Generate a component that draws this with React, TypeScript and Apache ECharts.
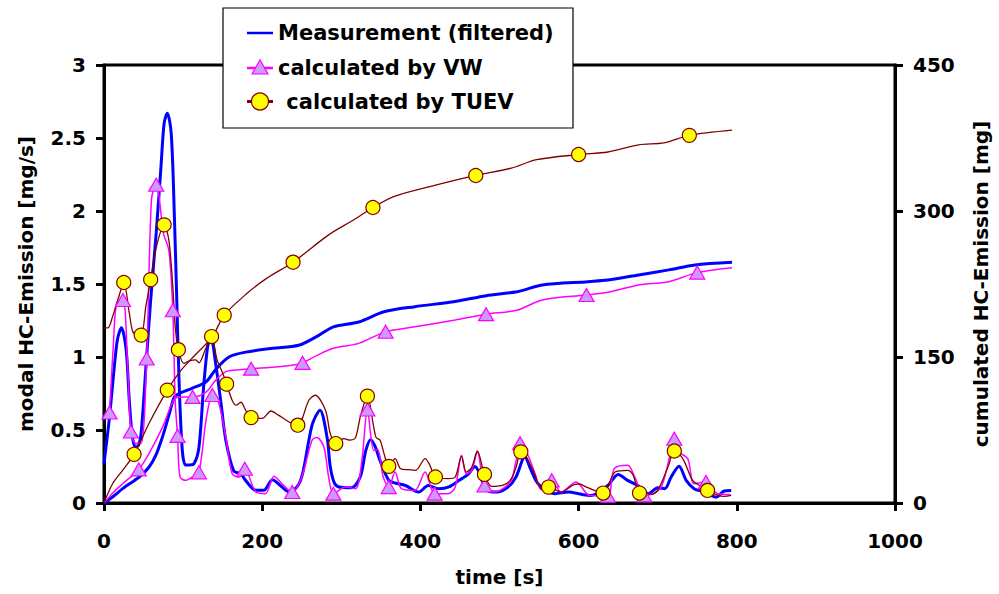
import React, { useEffect, useRef } from "react";
import * as echarts from "echarts";

// ---- data (time [s], value) ----
const measModal: [number, number][] = [
  [0, 0.27], [7, 0.59], [13, 0.93], [17, 1.12], [22, 1.2], [28, 1.05], [32, 0.7], [36, 0.45], [40, 0.38], [44, 0.4],
  [47, 0.48], [53, 0.93], [59, 1.39], [66, 1.85], [72, 2.3], [76, 2.6], [80, 2.67], [85, 2.53], [89, 1.96], [92, 1.39],
  [95, 0.82], [99, 0.36], [103, 0.26], [108, 0.26], [114, 0.27], [120, 0.38], [126, 0.8], [131, 1.07], [135, 1.14],
  [141, 0.96], [148, 0.68], [154, 0.43], [164, 0.22], [173, 0.2], [179, 0.155], [192, 0.087], [202, 0.087], [213, 0.16],
  [223, 0.12], [234, 0.075], [244, 0.11], [251, 0.2], [259, 0.43], [264, 0.55], [273, 0.636], [282, 0.45], [286, 0.25],
  [291, 0.14], [297, 0.11], [313, 0.105], [324, 0.18], [331, 0.36], [337, 0.434], [343, 0.384], [349, 0.29], [360, 0.155],
  [368, 0.137], [381, 0.12], [398, 0.075], [410, 0.12], [423, 0.098], [436, 0.11], [449, 0.155], [461, 0.2], [469, 0.25],
  [475, 0.2], [484, 0.086], [498, 0.075], [511, 0.11], [521, 0.18], [532, 0.315], [540, 0.224], [549, 0.13], [570, 0.064],
  [587, 0.075], [603, 0.06], [616, 0.052], [637, 0.12], [650, 0.196], [662, 0.155], [675, 0.12], [688, 0.064], [700, 0.105],
  [709, 0.098], [717, 0.178], [727, 0.251], [736, 0.155], [746, 0.098], [759, 0.075], [774, 0.04], [784, 0.082], [793, 0.086],
];

const vwModal: [number, number][] = [
  [7, 0.62], [12, 1.1], [16, 1.37], [24, 1.39], [30, 0.93], [34, 0.49], [40, 0.41], [47, 0.41], [54, 0.99], [60, 2.08],
  [66, 2.18], [70, 2.08], [75, 1.85], [82, 1.73], [87, 1.32], [90, 0.7], [93, 0.46], [96, 0.18], [103, 0.155], [112, 0.178],
  [120, 0.21], [129, 0.567], [137, 0.74], [145, 0.684], [154, 0.452], [162, 0.2], [171, 0.178], [178, 0.235], [192, 0.075],
  [204, 0.064], [215, 0.183], [225, 0.132], [238, 0.075], [250, 0.178], [263, 0.43], [269, 0.448], [278, 0.384], [284, 0.178],
  [290, 0.064], [305, 0.109], [318, 0.098], [326, 0.29], [333, 0.64], [341, 0.36], [346, 0.366], [353, 0.178], [360, 0.109],
  [368, 0.212], [376, 0.098], [393, 0.086], [406, 0.212], [412, 0.132], [418, 0.064], [435, 0.064], [444, 0.11], [452, 0.327],
  [458, 0.2], [465, 0.224], [472, 0.35], [481, 0.12], [494, 0.075], [507, 0.109], [515, 0.155], [521, 0.29], [526, 0.41],
  [536, 0.327], [545, 0.2], [553, 0.09], [566, 0.155], [578, 0.075], [597, 0.143], [614, 0.052], [637, 0.05], [645, 0.235],
  [662, 0.258], [671, 0.178], [683, 0.052], [692, 0.059], [704, 0.105], [712, 0.246], [721, 0.44], [727, 0.35], [738, 0.304],
  [746, 0.132], [761, 0.143], [776, 0.064], [792, 0.059],
];
const vwModalMarkers = [7, 24, 34, 54, 66, 87, 93, 120, 137, 178, 238, 290, 333, 360, 418, 481, 526, 566, 637, 683, 721, 761];

const tuevModal: [number, number][] = [
  [0, 1.2], [5, 1.2], [11, 1.28], [18, 1.4], [25, 1.51], [32, 1.3], [36, 1.18], [41, 1.15], [47, 1.15], [53, 1.35],
  [59, 1.53], [66, 1.75], [76, 1.905], [82, 1.8], [87, 1.48], [90, 1.21], [94, 1.05], [101, 0.956], [108, 0.974],
  [116, 0.98], [120, 0.96], [128, 1.05], [136, 1.14], [143, 0.98], [150, 0.89], [155, 0.814], [162, 0.704], [167, 0.67],
  [173, 0.69], [179, 0.636], [186, 0.585], [200, 0.579], [211, 0.63], [221, 0.6], [234, 0.555], [245, 0.533], [259, 0.704],
  [267, 0.738], [280, 0.636], [286, 0.476], [293, 0.407], [303, 0.441], [311, 0.43], [318, 0.448], [324, 0.59], [333, 0.732],
  [341, 0.52], [344, 0.448], [349, 0.43], [354, 0.338], [360, 0.251], [368, 0.304], [375, 0.235], [385, 0.228], [394, 0.224],
  [406, 0.304], [412, 0.258], [419, 0.178], [435, 0.167], [444, 0.178], [452, 0.32], [458, 0.212], [465, 0.246], [472, 0.356],
  [481, 0.196], [490, 0.114], [507, 0.128], [515, 0.167], [521, 0.246], [527, 0.35], [534, 0.315], [545, 0.19], [553, 0.098],
  [562, 0.109], [578, 0.075], [595, 0.128], [601, 0.13], [610, 0.109], [631, 0.068], [646, 0.212], [662, 0.224], [669, 0.19],
  [677, 0.068], [692, 0.059], [700, 0.086], [713, 0.246], [721, 0.356], [727, 0.338], [734, 0.28], [744, 0.155], [753, 0.12],
  [763, 0.086], [776, 0.052], [784, 0.045], [793, 0.052],
];
const tuevModalMarkers = [25, 47, 59, 76, 94, 136, 155, 186, 245, 293, 333, 360, 419, 481, 527, 562, 631, 677, 721, 763];

const measCum: [number, number][] = [
  [0, 0], [12, 7], [24, 15], [45, 27], [57, 37], [66, 50], [74, 68], [82, 90], [89, 109], [95, 112.5], [112, 118],
  [129, 124.5], [141, 137], [158, 150], [179, 155], [213, 159], [246, 162], [271, 172], [290, 181], [322, 186],
  [354, 196.5], [393, 201.7], [444, 207], [483, 213], [522, 217], [554, 224], [612, 227.4], [637, 229], [676, 234.3],
  [714, 239.5], [747, 244.6], [794, 247.4],
];

const vwCum: [number, number][] = [
  [0, 0], [12, 11], [24, 20], [44, 34.5], [57, 51], [74, 78], [89, 107], [99, 109], [112, 109], [129, 114], [141, 126],
  [154, 135], [170, 137], [186, 138], [221, 140], [242, 142], [251, 144], [270, 152], [290, 159], [322, 164], [356, 176],
  [393, 181], [444, 188], [483, 194], [522, 198], [554, 208.6], [610, 213.7], [637, 216.5], [676, 224], [714, 227.4],
  [750, 236.7], [794, 241.8],
];
const vwCumMarkers = [44, 112, 186, 251, 356, 483, 610, 750];

const tuevCum: [number, number][] = [
  [0, 0], [11, 20], [24, 34], [38, 50], [57, 82], [80, 116], [95, 134], [108, 146], [137, 171], [152, 193], [181, 215.5],
  [206, 231], [239, 247.4], [284, 275.5], [316, 291], [340, 303.6], [367, 315], [412, 325], [470, 336.5], [515, 344],
  [547, 352.7], [600, 358], [637, 360.6], [676, 368], [708, 370], [740, 377.7], [794, 383],
];
const tuevCumMarkers = [38, 80, 152, 239, 340, 470, 600, 740];

const seriesNames = ["Measurement (filtered)", "calculated by VW", " calculated by TUEV"];
const axisTitles = { x: "time [s]", yLeft: "modal HC-Emission [mg/s]", yRight: "cumulated HC-Emission [mg]" };

const BLUE = "#0000FF";
const MAGENTA = "#FF00FF";
const LAVENDER = "#CC99FF";
const BROWN = "#800000";
const YELLOW = "#FFFF00";
const FONT = "DejaVu Sans";

function build(points: [number, number][], markers: number[]) {
  return points.map(([t, v]) => ({ value: [t, v], symbol: markers.includes(t) ? undefined : "none" }));
}

export default function App() {
  const ref = useRef<HTMLDivElement>(null);
  useEffect(() => {
    if (!ref.current) return;
    const chart = echarts.init(ref.current, null, { renderer: "svg" });
    const labelStyle = { color: "#000", fontFamily: FONT, fontWeight: "bold" as const, fontSize: 20 };
    const axisLine = { show: true, lineStyle: { color: "#000", width: 3 } };
    const axisTick = { show: true, length: 8, inside: false, lineStyle: { color: "#000", width: 3 } };
    const plain = (v: number) => String(v);

    const lineSeries = (
      name: string, data: any[], yAxisIndex: number, color: string, width: number,
      symbol: string, symbolSize: any, fill: string, border: string
    ) => ({
      name, type: "line", yAxisIndex, data, smooth: 0.3,
      symbol, symbolSize, showSymbol: true, showAllSymbol: true,
      lineStyle: { color, width },
      itemStyle: { color: fill, borderColor: border, borderWidth: 1.2, opacity: 1 },
      emphasis: { disabled: true },
    });

    const legendRows = [33, 68, 101.5];
    const lx = 223, ly = 8;
    const graphic: any[] = [
      {
        type: "group", x: lx, y: ly, z: 100, children: [
          { type: "rect", shape: { x: 0, y: 0, width: 350, height: 120 }, style: { fill: "#fff", stroke: "#000", lineWidth: 1.2 } },
          { type: "line", shape: { x1: 24, y1: legendRows[0] - ly, x2: 50, y2: legendRows[0] - ly }, style: { stroke: BLUE, lineWidth: 2.5 } },
          { type: "line", shape: { x1: 24, y1: legendRows[1] - ly, x2: 50, y2: legendRows[1] - ly }, style: { stroke: MAGENTA, lineWidth: 2.5 } },
          {
            type: "polygon",
            shape: { points: [[29, legendRows[1] - ly + 6], [37, legendRows[1] - ly - 8], [45, legendRows[1] - ly + 6]] },
            style: { fill: LAVENDER, stroke: MAGENTA, lineWidth: 1.2 },
          },
          { type: "line", shape: { x1: 24, y1: legendRows[2] - ly, x2: 50, y2: legendRows[2] - ly }, style: { stroke: BROWN, lineWidth: 3 } },
          { type: "circle", shape: { cx: 37, cy: legendRows[2] - ly, r: 8.5 }, style: { fill: YELLOW, stroke: BROWN, lineWidth: 1.2 } },
          ...seriesNames.map((n, i) => ({
            type: "text", x: i === 2 ? 56 : 55, y: legendRows[i] - ly,
            style: { text: n, fill: "#000", font: `bold 21px "${FONT}"`, align: "left", verticalAlign: "middle" },
          })),
        ],
      },
    ];

    chart.setOption({
      animation: false,
      backgroundColor: "#fff",
      grid: { left: 104, right: 102, top: 65, bottom: 91, show: true, borderColor: "#000", borderWidth: 3, backgroundColor: "transparent" },
      xAxis: {
        type: "value", min: 0, max: 1000, interval: 200,
        name: axisTitles.x, nameLocation: "middle", nameGap: 64,
        nameTextStyle: labelStyle,
        axisLine, axisTick, splitLine: { show: false },
        axisLabel: { ...labelStyle, margin: 28, formatter: plain },
      },
      yAxis: [
        {
          type: "value", min: 0, max: 3, interval: 0.5, position: "left",
          name: axisTitles.yLeft, nameLocation: "middle", nameRotate: 90, nameGap: 68,
          nameTextStyle: labelStyle,
          axisLine, axisTick, splitLine: { show: false },
          axisLabel: { ...labelStyle, margin: 18, formatter: plain },
        },
        {
          type: "value", min: 0, max: 450, interval: 150, position: "right",
          name: axisTitles.yRight, nameLocation: "middle", nameRotate: 90, nameGap: 76,
          nameTextStyle: labelStyle,
          axisLine, axisTick, splitLine: { show: false },
          axisLabel: { ...labelStyle, margin: 18, formatter: plain },
        },
      ],
      series: [
        lineSeries(seriesNames[0], build(measCum, []), 1, BLUE, 3, "none", 0, BLUE, BLUE),
        lineSeries(seriesNames[0], build(measModal, []), 0, BLUE, 3, "none", 0, BLUE, BLUE),
        lineSeries(seriesNames[1], build(vwCum, vwCumMarkers), 1, MAGENTA, 1.5, "triangle", [15, 13], LAVENDER, MAGENTA),
        lineSeries(seriesNames[1], build(vwModal, vwModalMarkers), 0, MAGENTA, 1.5, "triangle", [15, 13], LAVENDER, MAGENTA),
        lineSeries(seriesNames[2], build(tuevCum, tuevCumMarkers), 1, BROWN, 1.3, "circle", 14, YELLOW, BROWN),
        lineSeries(seriesNames[2], build(tuevModal, tuevModalMarkers), 0, BROWN, 1.3, "circle", 14, YELLOW, BROWN),
      ],
      graphic,
    });
    return () => chart.dispose();
  }, []);
  return <div ref={ref} style={{ position: "absolute", left: 0, top: 0, width: 999, height: 594 }} />;
}
